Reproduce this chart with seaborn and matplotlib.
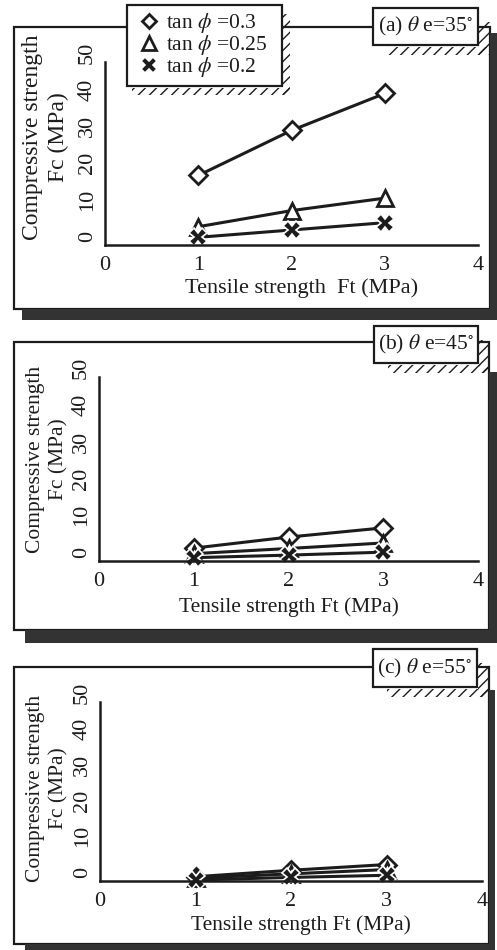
import matplotlib
matplotlib.use("Agg")
import matplotlib.pyplot as plt
import matplotlib.transforms as mtransforms
from matplotlib.patches import Rectangle
from matplotlib.lines import Line2D
import seaborn as sns

# ---- data -------------------------------------------------------------
tensile = [1, 2, 3]                       # Ft (MPa)
x_ticks = [0, 1, 2, 3, 4]
y_ticks = [0, 10, 20, 30, 40, 50]
series_labels = ["tan $\\phi$ =0.3", "tan $\\phi$ =0.25", "tan $\\phi$ =0.2"]
panel_titles = ["(a) $\\theta$ e=35$^{\\circ}$",
                "(b) $\\theta$ e=45$^{\\circ}$",
                "(c) $\\theta$ e=55$^{\\circ}$"]
x_titles = ["Tensile strength  Ft (MPa)",
            "Tensile strength Ft (MPa)",
            "Tensile strength Ft (MPa)"]

# compressive strength Fc (MPa) for theta_e = 35, 45, 55 deg
fc35_tan030 = [19.0, 31.3, 41.4]
fc35_tan025 = [5.0, 9.4, 12.8]
fc35_tan020 = [2.1, 4.1, 6.1]

fc45_tan030 = [3.5, 6.5, 9.0]
fc45_tan025 = [2.0, 3.4, 4.9]
fc45_tan020 = [0.9, 1.6, 2.4]

fc55_tan030 = [1.2, 3.0, 4.6]
fc55_tan025 = [0.8, 2.0, 3.2]
fc55_tan020 = [0.3, 1.0, 1.6]

# ---- style ------------------------------------------------------------
sns.set_theme(style="white")
plt.rcParams["font.family"] = ["Liberation Serif", "DejaVu Serif"]
plt.rcParams["mathtext.fontset"] = "stix"
plt.rcParams["hatch.linewidth"] = 1.0

INK = "#1c1c1c"
SHADOW = "#333333"
FS = 15.5

W, H = 497, 950
fig = plt.figure(figsize=(W / 100, H / 100), dpi=100)
fig.patch.set_facecolor("white")


def fx(px):
    return px / W


def fy(py):
    return 1 - py / H


def rect(x0, y0, x1, y1, **kw):
    """Rectangle given by pixel corners (top-left, bottom-right)."""
    r = Rectangle((fx(x0), fy(y1)), (x1 - x0) / W, (y1 - y0) / H,
                  transform=fig.transFigure, **kw)
    fig.add_artist(r)
    return r


marker_styles = [
    dict(marker="D", markersize=9, markerfacecolor="white",
         markeredgecolor=INK, markeredgewidth=2.0),
    dict(marker="^", markersize=11, markerfacecolor="white",
         markeredgecolor=INK, markeredgewidth=2.0),
    dict(marker="X", markersize=12.5, markerfacecolor=INK,
         markeredgecolor="white", markeredgewidth=1.2),
]

panels = [
    dict(axes=(105, 478, 245, 62), frame=(14, 27, 490, 309),
         shadow_r=(490, 33, 497, 320), shadow_b=(22, 309, 497, 320),
         tbox=(373, 8, 478, 45), ylab=(46, 137), xlab=(302, 288),
         yfs=17, xfs=16,
         values=[fc35_tan030, fc35_tan025, fc35_tan020]),
    dict(axes=(99, 478, 561, 377), frame=(14, 342, 489, 630),
         shadow_r=(489, 372, 497, 643), shadow_b=(25, 630, 497, 643),
         tbox=(374, 326, 478, 363), ylab=(47.5, 459), xlab=(289, 607),
         yfs=15.5, xfs=15.5,
         values=[fc45_tan030, fc45_tan025, fc45_tan020]),
    dict(axes=(100, 482, 881, 702), frame=(14, 667, 489, 944),
         shadow_r=(489, 690, 495, 950), shadow_b=(25, 944, 495, 950),
         tbox=(373, 649, 477, 687), ylab=(47.5, 788), xlab=(301, 925),
         yfs=15.5, xfs=15.5,
         values=[fc55_tan030, fc55_tan025, fc55_tan020]),
]

for i, p in enumerate(panels):
    # outer frame with drop shadow
    fl, ft, fr, fb = p["frame"]
    rect(fl, ft, fr, fb, fill=False, edgecolor=INK, lw=1.6, zorder=1)
    rect(*p["shadow_r"], facecolor=SHADOW, edgecolor="none", zorder=1)
    rect(*p["shadow_b"], facecolor=SHADOW, edgecolor="none", zorder=1)

    # panel title box with ground hatching
    tx0, ty0, tx1, ty1 = p["tbox"]
    rect(tx0 + 14, ty1 + 2, fr, ty1 + 10, fill=False, hatch="///",
         edgecolor=INK, lw=0, zorder=2)
    rect(tx1 + 1, ty0 + 14, fr, ty1 + 10, fill=False, hatch="///",
         edgecolor=INK, lw=0, zorder=2)
    rect(tx0, ty0, tx1, ty1, facecolor="white", edgecolor=INK, lw=1.6,
         zorder=3)
    fig.text(fx((tx0 + tx1) / 2), fy((ty0 + ty1) / 2), panel_titles[i],
             ha="center", va="center", fontsize=FS, color=INK, zorder=4)

    # the plotting area
    x0, x4, y0, y50 = p["axes"]
    ax = fig.add_axes([fx(x0), fy(y0), (x4 - x0) / W, (y0 - y50) / H])
    ax.patch.set_visible(False)
    for vals, st, lab in zip(p["values"], marker_styles, series_labels):
        sns.lineplot(x=tensile, y=vals, ax=ax, color=INK, lw=2.2,
                     errorbar=None, clip_on=False, label=lab, **st)
    if ax.get_legend() is not None:
        ax.get_legend().remove()

    ax.set_xlim(0, 4)
    ax.set_ylim(0, 50)
    ax.set_xticks(x_ticks)
    ax.set_yticks(y_ticks)
    ax.set_xlabel("")
    ax.set_ylabel("")
    for side in ("top", "right"):
        ax.spines[side].set_visible(False)
    for side in ("left", "bottom"):
        ax.spines[side].set_linewidth(1.8)
        ax.spines[side].set_color(INK)
    ax.tick_params(axis="both", direction="in", length=5, width=1.8,
                   colors=INK, labelsize=FS + 0.5)
    ax.tick_params(axis="x", pad=8)
    ax.tick_params(axis="y", pad=6, labelrotation=90)
    shift = mtransforms.ScaledTranslation(0, 9 / 100, fig.dpi_scale_trans)
    for t in ax.get_yticklabels():
        t.set_va("center")
        t.set_transform(t.get_transform() + shift)

    # axis titles
    fig.text(fx(p["ylab"][0]), fy(p["ylab"][1]),
             "Compressive strength\nFc (MPa)", rotation=90,
             ha="center", va="center", multialignment="center",
             fontsize=p["yfs"], color=INK, linespacing=1.3)
    fig.text(fx(p["xlab"][0]), fy(p["xlab"][1]), x_titles[i],
             ha="center", va="center", fontsize=p["xfs"], color=INK)

# legend box (top panel) with its hatched shadow
rect(132, 88, 290, 95, fill=False, hatch="///", edgecolor=INK, lw=0,
     zorder=2)
rect(283, 14, 290, 95, fill=False, hatch="///", edgecolor=INK, lw=0,
     zorder=2)
handles = [Line2D([], [], linestyle="none", **st) for st in marker_styles]
handles[0].set_markersize(7.5)
handles[1].set_markersize(9.5)
handles[2].set_markersize(11)
leg = fig.legend(handles, series_labels, loc="upper left",
                 bbox_to_anchor=(fx(127), fy(5), (282 - 127) / W, 0),
                 bbox_transform=fig.transFigure, mode="expand",
                 borderaxespad=0, fancybox=False, frameon=True,
                 edgecolor=INK, framealpha=1, fontsize=FS,
                 handlelength=1.4, handletextpad=0.1, labelspacing=-0.1,
                 borderpad=0.3)
leg.get_frame().set_linewidth(1.6)
leg.set_zorder(5)
for t in leg.get_texts():
    t.set_color(INK)

fig.savefig("out.png", dpi=100, facecolor="white")
